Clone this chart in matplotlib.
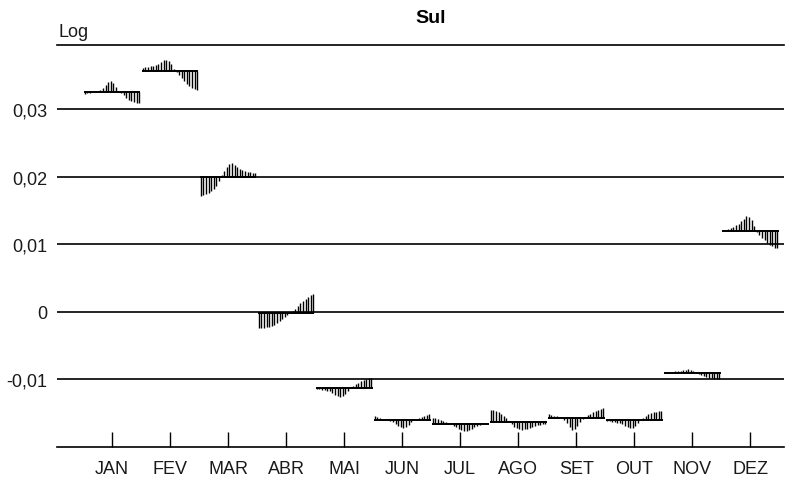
import numpy as np
import matplotlib.pyplot as plt

plt.rcParams['font.family'] = ['Liberation Sans', 'DejaVu Sans']

months = ['JAN', 'FEV', 'MAR', 'ABR', 'MAI', 'JUN', 'JUL', 'AGO', 'SET', 'OUT', 'NOV', 'DEZ']
# mean of each month's seasonal factor (log)
month_means = [0.0326, 0.0357, 0.0200, -0.0001, -0.0112, -0.0160,
               -0.0166, -0.0163, -0.0157, -0.0160, -0.0091, 0.0120]

# yearly deviations from the month mean, in units of 0.001 (log)
jan = [-0.3, -0.2, -0.15, -0.1, 0, 0.1, 0.3, 0.6, 1.0, 1.5, 1.6, 1.3, 0.7, 0.15, -0.15,
       -0.45, -0.9, -1.2, -1.35, -1.5, -1.6, -1.6]
fev = [0.45, 0.5, 0.6, 0.65, 0.75, 0.9, 1.05, 1.25, 1.55, 1.6, 1.5, 1.0, 0.3, -0.15, -0.6,
       -1.05, -1.5, -1.9, -2.2, -2.5, -2.75, -2.8]
mar = [-2.85, -2.75, -2.6, -2.35, -2.15, -1.85, -1.35, -0.6, 0.3, 0.9, 1.5, 1.9, 2.0, 1.75,
       1.45, 1.2, 1.0, 0.9, 0.75, 0.7, 0.6, 0.5]
abr = [-2.35, -2.35, -2.3, -2.2, -2.1, -1.95, -1.8, -1.55, -1.25, -0.95, -0.6, -0.3, 0.05,
       0.3, 0.6, 1.05, 1.35, 1.75, 2.05, 2.3, 2.55, 2.75]
mai = [-0.15, -0.2, -0.3, -0.35, -0.45, -0.5, -0.75, -1.05, -1.25, -1.35, -1.2, -0.9, -0.45,
       0.05, 0.3, 0.5, 0.75, 0.95, 1.1, 1.25, 1.35, 1.4]
jun = [0.6, 0.45, 0.35, 0.2, 0.15, 0.05, -0.15, -0.35, -0.6, -0.9, -1.1, -1.2, -1.05, -0.75,
       -0.35, -0.05, 0.2, 0.35, 0.5, 0.65, 0.8, 0.95]
jul = [0.95, 0.9, 0.8, 0.65, 0.5, 0.35, 0.15, -0.05, -0.3, -0.5, -0.75, -0.95, -1.1, -1.1,
       -0.95, -0.75, -0.5, -0.3, -0.15, -0.05, 0, 0.05]
ago = [1.8, 1.75, 1.65, 1.5, 1.25, 0.95, 0.6, 0.15, -0.35, -0.75, -0.95, -1.1, -1.2, -1.1,
       -1.05, -0.9, -0.75, -0.65, -0.5, -0.45, -0.35, -0.3]
set_ = [0.6, 0.5, 0.35, 0.3, 0.15, 0, -0.3, -0.75, -1.35, -1.8, -1.65, -1.2, -0.6, -0.15,
        0.15, 0.45, 0.65, 0.9, 1.1, 1.25, 1.4, 1.5]
out = [-0.15, -0.2, -0.3, -0.35, -0.45, -0.5, -0.65, -0.9, -1.1, -1.25, -1.2, -0.9, -0.5,
       -0.05, 0.35, 0.65, 0.9, 1.05, 1.2, 1.25, 1.35, 1.4]
nov = [0.15, 0.15, 0.2, 0.2, 0.3, 0.3, 0.35, 0.45, 0.5, 0.6, 0.5, 0.35, 0.15, -0.05, -0.3,
       -0.45, -0.6, -0.65, -0.75, -0.8, -0.8, -0.8]
dez = [0.15, 0.2, 0.3, 0.45, 0.6, 0.8, 1.05, 1.4, 1.8, 2.15, 2.0, 1.55, 0.75, -0.15, -0.6,
       -1.05, -1.4, -1.8, -2.05, -2.3, -2.5, -2.6]
devs = [jan, fev, mar, abr, mai, jun, jul, ago, set_, out, nov, dez]

yticks = [-0.01, 0, 0.01, 0.02, 0.03]
ytick_labels = ['-0,01', '0', '0,01', '0,02', '0,03']

fig = plt.figure(figsize=(7.96, 4.81), dpi=100)
ax = fig.add_axes([0.0716, 0.0686, 0.9136, 0.8368])

for i, (m, d) in enumerate(zip(month_means, devs)):
    pos = i + 1
    vals = m + np.array(d) * 1e-3
    xs = np.linspace(pos - 0.47, pos + 0.47, len(vals))
    ax.vlines(xs, m, vals, color='black', lw=1.0, zorder=3)
    ax.hlines(m, pos - 0.49, pos + 0.49, color='black', lw=1.4, zorder=4)

ax.set_xlim(0.052, 12.586)
ax.set_ylim(-0.02, 0.0396)
ax.set_xticks(range(1, 13))
ax.set_xticklabels(months)
ax.set_yticks(yticks)
ax.set_yticklabels(ytick_labels)

ax.yaxis.grid(True, color='black', lw=1.2)
ax.set_axisbelow(True)
for s in ['left', 'right']:
    ax.spines[s].set_visible(False)
for s in ['top', 'bottom']:
    ax.spines[s].set_linewidth(1.2)

ax.tick_params(axis='y', length=0, pad=7, labelsize=13, colors='#1a1a1a')
ax.tick_params(axis='x', direction='in', length=11, width=1, pad=9, labelsize=13,
               labelcolor='#1a1a1a')

ax.annotate('Log', xy=(0, 1), xycoords='axes fraction', xytext=(1, 3),
            textcoords='offset points', ha='left', va='bottom', fontsize=13,
            color='#1a1a1a')
fig.text(431 / 796, 1 - 18.5 / 481, 'Sul', ha='center', va='center',
         fontsize=14, fontweight='bold')

fig.savefig('out.png', dpi=100)
